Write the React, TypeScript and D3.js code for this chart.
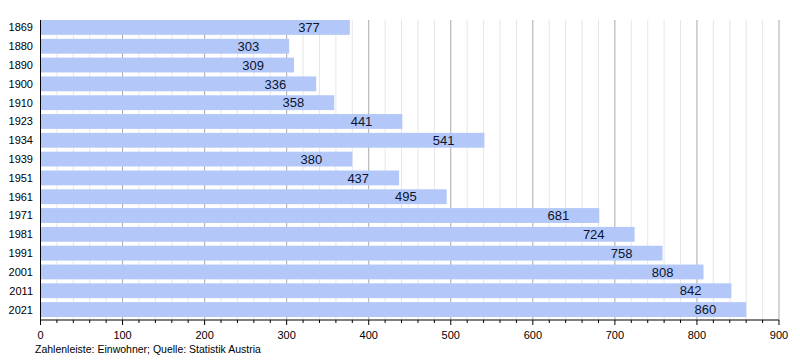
import * as d3 from "d3";

const years = [
  "1869", "1880", "1890", "1900", "1910", "1923", "1934", "1939",
  "1951", "1961", "1971", "1981", "1991", "2001", "2011", "2021",
];
const population = [377, 303, 309, 336, 358, 441, 541, 380, 437, 495, 681, 724, 758, 808, 842, 860];
const caption = "Zahlenleiste: Einwohner; Quelle: Statistik Austria";

const W = 800;
const H = 360;
const M = { left: 40.5, right: 21, top: 20, bottom: 40 };
const FONT = "Liberation Sans, Arial, sans-serif";

export default function App() {
  const x = d3.scaleLinear().domain([0, 900]).range([M.left, W - M.right]);
  const y = d3
    .scaleBand<string>()
    .domain(years)
    .range([M.top, H - M.bottom - 3])
    .paddingInner(0.21)
    .paddingOuter(0);
  const axisY = H - M.bottom;

  const minor = d3.range(0, 901, 20).filter((v) => v % 100 !== 0);
  const major = x.ticks(9);

  return (
    <svg width={W} height={H} style={{ position: "absolute", left: 0, top: 0 }} fontFamily={FONT}>
      <rect width={W} height={H} fill="#fff" />
      {minor.map((v) => (
        <line key={"m" + v} x1={x(v)} x2={x(v)} y1={M.top} y2={axisY} stroke="#e6e6e6" />
      ))}
      {major.map((v) => (
        <line key={"M" + v} x1={x(v)} x2={x(v)} y1={M.top} y2={axisY} stroke="#aaaaaa" />
      ))}
      {years.map((yr, i) => (
        <g key={yr}>
          <rect
            x={x(0)}
            y={y(yr)}
            width={x(population[i]) - x(0)}
            height={y.bandwidth()}
            fill="#b3c8f8"
          />
          <text
            x={x(population[i]) - 30}
            y={(y(yr) ?? 0) + y.bandwidth() / 2}
            dy="0.36em"
            textAnchor="end"
            fontSize={13}
            fill="#0b1330"
          >
            {population[i]}
          </text>
          <text
            x={33}
            y={(y(yr) ?? 0) + y.bandwidth() / 2}
            dy="0.36em"
            textAnchor="end"
            fontSize={11}
            fill="#000"
          >
            {yr}
          </text>
        </g>
      ))}
      <line x1={x(0)} x2={x(0)} y1={M.top} y2={axisY} stroke="#000" />
      <line x1={x(0)} x2={x(900)} y1={axisY} y2={axisY} stroke="#000" />
      {minor.map((v) => (
        <line key={"mt" + v} x1={x(v)} x2={x(v)} y1={axisY} y2={axisY + 3} stroke="#000" />
      ))}
      {major.map((v) => (
        <g key={"t" + v}>
          <line x1={x(v)} x2={x(v)} y1={axisY} y2={axisY + 5} stroke="#000" />
          <text x={x(v)} y={axisY + 15} dy="0.36em" textAnchor="middle" fontSize={11} fill="#000">
            {v}
          </text>
        </g>
      ))}
      <text x={35} y={349} dy="0.36em" fontSize={10.5} fill="#000">
        {caption}
      </text>
    </svg>
  );
}
